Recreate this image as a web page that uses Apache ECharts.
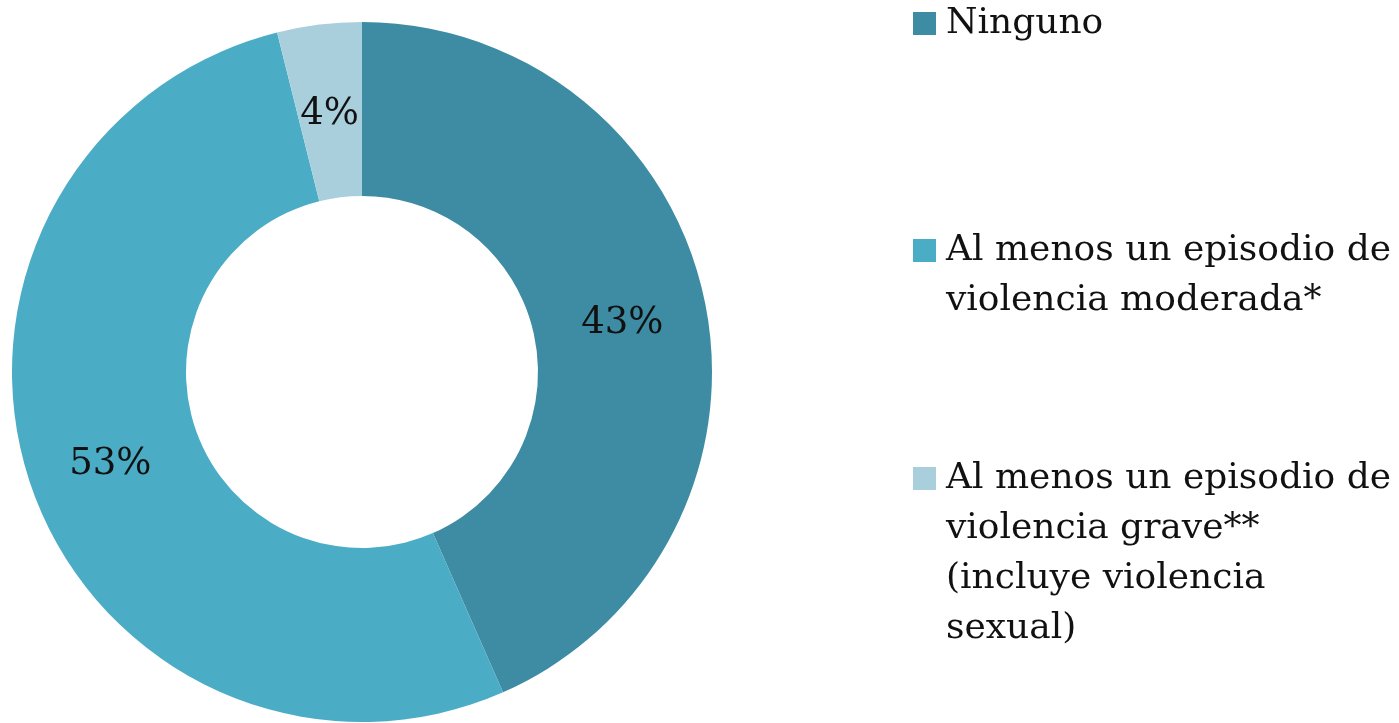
<!DOCTYPE html>
<html>
<head>
<meta charset="utf-8">
<script src="https://cdn.jsdelivr.net/npm/echarts@6/dist/echarts.min.js"></script>
<style>
  html, body { margin: 0; padding: 0; background: #ffffff; }
  #chart { width: 1399px; height: 723px; }
</style>
</head>
<body>
<div id="chart"></div>
<script>
const categories = [
  "Ninguno",
  "Al menos un episodio de\nviolencia moderada*",
  "Al menos un episodio de\nviolencia grave**\n(incluye violencia\nsexual)"
];
const shares = [43.4, 52.7, 3.9];
const colors = ["#3d8ca4", "#4bacc6", "#a9cfdd"];

const FONT = "DejaVu Serif";
const LINE = 50;
// vertical centre of each legend icon
const iconCenters = [23.5, 250.5, 478.5];

const chart = echarts.init(document.getElementById("chart"));

// one legend per item; blank lines in front keep the icon on the first text line
const legends = categories.map((name, i) => {
  const lines = name.split("\n").length;
  return {
    data: [name],
    orient: "vertical",
    left: 913,
    top: iconCenters[i] - ((2 * lines - 1) * LINE) / 2,
    padding: 0,
    itemWidth: 23,
    itemHeight: 23,
    icon: "rect",
    selectedMode: false,
    formatter: n => "\n".repeat(lines - 1) + n,
    textStyle: {
      fontFamily: FONT,
      fontSize: 36,
      lineHeight: LINE,
      padding: [0, 0, 0, 5],
      color: "#111111"
    }
  };
});

chart.setOption({
  animation: false,
  color: colors,
  legend: legends,
  series: [
    {
      type: "pie",
      center: [362, 372],
      radius: [176, 350],
      startAngle: 90,
      clockwise: true,
      avoidLabelOverlap: false,
      itemStyle: { borderWidth: 0 },
      label: {
        show: true,
        position: "inside",
        offset: [0, 6],
        fontFamily: FONT,
        fontSize: 37,
        color: "#111111",
        formatter: p => Math.round(p.percent) + "%"
      },
      labelLine: { show: false },
      emphasis: { disabled: true },
      data: categories.map((name, i) => ({ name, value: shares[i] }))
    }
  ]
});
</script>
</body>
</html>
